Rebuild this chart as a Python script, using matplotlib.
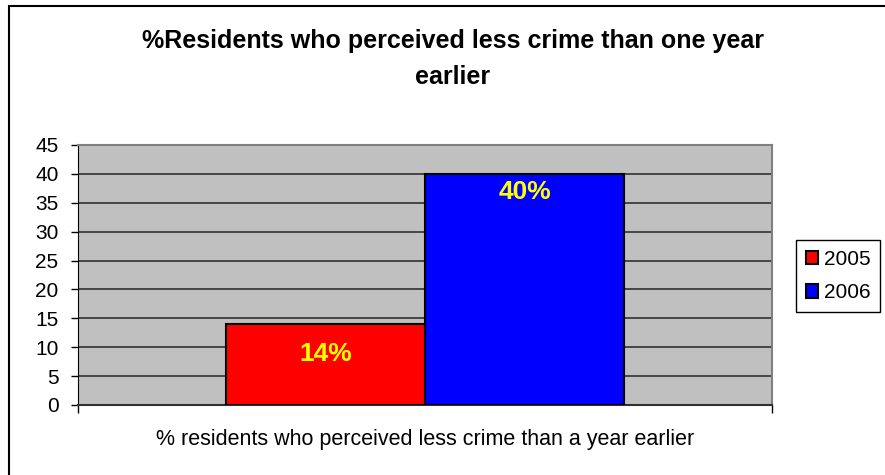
import numpy as np
import matplotlib
matplotlib.use("Agg")
import matplotlib.pyplot as plt
from matplotlib.patches import Rectangle

plt.rcParams["font.family"] = ["Liberation Sans", "DejaVu Sans"]

years = ["2005", "2006"]
values = [14, 40]
value_labels = ["14%", "40%"]
bar_colors = ["#FF0000", "#0000FF"]
category = "% residents who perceived less crime than a year earlier"
title = "%Residents who perceived less crime than one year\nearlier"
yticks = np.arange(0, 50, 5)

W, H = 885, 475
fig = plt.figure(figsize=(W / 100, H / 100), dpi=100)
ax = fig.add_axes([78 / W, 1 - 405 / H, (772 - 78) / W, (405 - 145) / H])
ax.set_facecolor("#C0C0C0")

bar_width = 0.287
offsets = [-bar_width / 2, bar_width / 2]
label_drop = [30, 18]  # px below the bar top
for i in range(len(values)):
    ax.bar(offsets[i], values[i], width=bar_width, color=bar_colors[i],
           edgecolor="black", linewidth=1.5, label=years[i], zorder=3)
    ax.annotate(value_labels[i], (offsets[i], values[i]), xytext=(0, -label_drop[i] * 0.72),
                textcoords="offset points", ha="center", va="center",
                color="#FFFF00", fontsize=19, fontweight="bold", zorder=4)

ax.set_xlim(-0.5, 0.5)
ax.set_ylim(0, 45)
ax.set_yticks(yticks)
ax.set_yticklabels([str(t) for t in yticks], fontsize=15)
ax.set_xticks([-0.5, 0.5])
ax.set_xticklabels([])
ax.tick_params(axis="y", direction="out", length=5, width=1, pad=9)
ax.tick_params(axis="x", direction="out", length=6, width=1)
ax.grid(axis="y", color="#303030", linewidth=1.2, zorder=1)
ax.set_axisbelow(True)

for side in ["top", "right"]:
    ax.spines[side].set_color("#808080")
    ax.spines[side].set_linewidth(1.5)
ax.spines["left"].set_color("black")
ax.spines["bottom"].set_color("#303030")
ax.spines["bottom"].set_linewidth(1.5)

fig.text(425 / W, 1 - 440 / H, category, ha="center", va="center", fontsize=15.5)
fig.text(453 / W, 1 - 59 / H, title, ha="center", va="center", fontsize=18,
         fontweight="bold", linespacing=1.6)

leg = fig.legend(loc="center", bbox_to_anchor=(838 / W, 1 - 276 / H), fontsize=15,
                 handlelength=0.6, handleheight=0.6, handletextpad=0.25,
                 labelspacing=0.7, borderpad=0.45, borderaxespad=0, fancybox=False,
                 shadow=False, framealpha=1, edgecolor="black")
leg.get_frame().set_linewidth(1)

# outer chart frame, running off the bottom and right of the canvas
fig.patches.append(Rectangle((9, -20), W + 20, H - 6 + 20, transform=None,
                             fill=False, edgecolor="black", linewidth=1.5))

fig.savefig("out.png", dpi=100)
